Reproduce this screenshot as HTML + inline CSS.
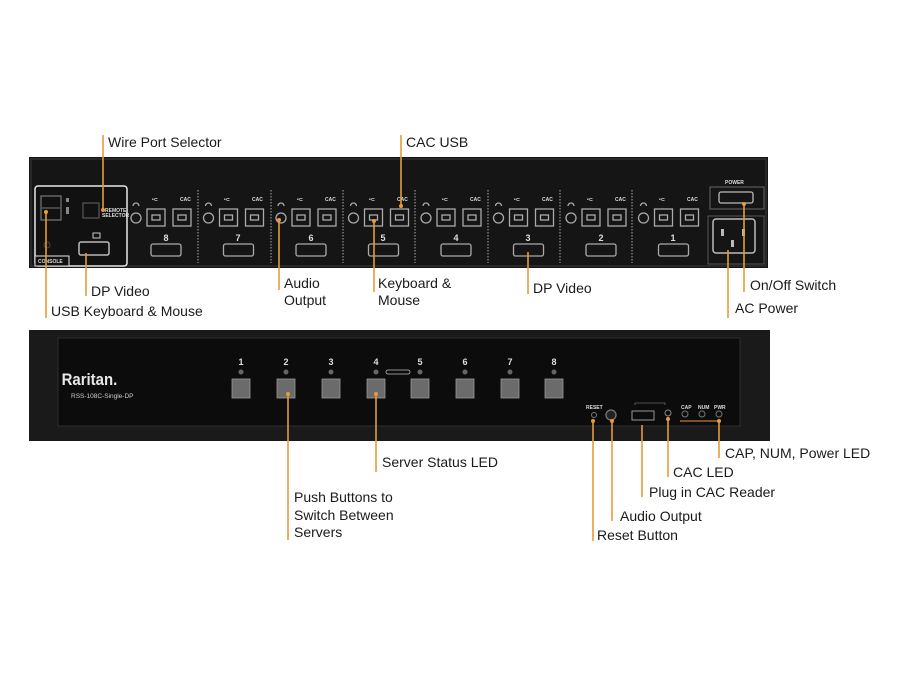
<!DOCTYPE html>
<html><head><meta charset="utf-8"><style>
html,body{margin:0;padding:0;background:#fff;}
svg{display:block;}
text{font-family:"Liberation Sans",sans-serif;}
.l{font-size:14px;fill:#1a1a1a;}
.s{font-size:5px;fill:#ddd;font-weight:bold;}
.n{font-size:9px;fill:#ddd;font-weight:bold;}
</style></head><body>
<svg width="900" height="675" viewBox="0 0 900 675" xmlns="http://www.w3.org/2000/svg">
<rect width="900" height="675" fill="#fff"/>
<!-- TOP PANEL -->
<rect x="29" y="157" width="739" height="111" fill="#151515"/>
<rect x="31" y="159" width="735" height="107" fill="none" stroke="#3a3a3a" stroke-width="1"/>
<!-- console box -->
<rect x="35" y="186" width="92" height="80" rx="3" fill="#111" stroke="#e8e8e8" stroke-width="1.5"/>
<rect x="41" y="196" width="20" height="24" fill="none" stroke="#777" stroke-width="1.2"/>
<line x1="42" y1="208" x2="60" y2="208" stroke="#777"/>
<rect x="66" y="198" width="3" height="4" fill="#888"/><rect x="66" y="207" width="3" height="7" fill="#888"/>
<rect x="83" y="203" width="16" height="15" fill="none" stroke="#666"/>
<text x="105" y="212" class="s">REMOTE</text><text x="102" y="217" class="s">SELECTOR</text>
<rect x="93" y="233" width="7" height="5" fill="none" stroke="#ccc"/>
<rect x="79" y="242" width="30" height="13" rx="2" fill="none" stroke="#bbb" stroke-width="1.5"/>
<circle cx="47" cy="245" r="3" fill="none" stroke="#444"/>
<rect x="35" y="256" width="34" height="10" fill="#111" stroke="#e8e8e8" stroke-width="1"/>
<text x="38" y="263" class="s" fill="#eee">CONSOLE</text>
<!-- dividers -->
<g stroke="#aaa" stroke-width="1" stroke-dasharray="1.5,1.5">
<line x1="198" y1="190" x2="198" y2="263"/><line x1="271" y1="190" x2="271" y2="263"/>
<line x1="343" y1="190" x2="343" y2="263"/><line x1="415" y1="190" x2="415" y2="263"/>
<line x1="488" y1="190" x2="488" y2="263"/><line x1="560" y1="190" x2="560" y2="263"/>
<line x1="632" y1="190" x2="632" y2="263"/>
</g>
<!-- groups -->
<g id="g8" fill="none" stroke="#aaa" stroke-width="1.3">
<circle cx="136" cy="218" r="5"/><rect x="147" y="209" width="18" height="17"/><rect x="152" y="215" width="8" height="5"/>
<rect x="173" y="209" width="18" height="17"/><rect x="178" y="215" width="8" height="5"/>
<rect x="151" y="244" width="30" height="12" rx="2"/><path d="M133 206 a3 3 0 0 1 6 0"/>
</g>
<use href="#g8" x="72.5"/><use href="#g8" x="145"/><use href="#g8" x="217.5"/><use href="#g8" x="290"/><use href="#g8" x="362.5"/><use href="#g8" x="435"/><use href="#g8" x="507.5"/>
<g class="s">
<text x="152" y="201">•⊂</text><text x="180" y="201">CAC</text>
<text x="224" y="201">•⊂</text><text x="252" y="201">CAC</text>
<text x="297" y="201">•⊂</text><text x="325" y="201">CAC</text>
<text x="369" y="201">•⊂</text><text x="397" y="201">CAC</text>
<text x="442" y="201">•⊂</text><text x="470" y="201">CAC</text>
<text x="514" y="201">•⊂</text><text x="542" y="201">CAC</text>
<text x="587" y="201">•⊂</text><text x="615" y="201">CAC</text>
<text x="659" y="201">•⊂</text><text x="687" y="201">CAC</text>
</g>
<g class="n" text-anchor="middle">
<text x="166" y="241">8</text><text x="238" y="241">7</text><text x="311" y="241">6</text><text x="383" y="241">5</text>
<text x="456" y="241">4</text><text x="528" y="241">3</text><text x="601" y="241">2</text><text x="673" y="241">1</text>
</g>
<!-- power -->
<text x="725" y="184" class="s">POWER</text>
<rect x="710" y="187" width="54" height="22" fill="none" stroke="#666"/>
<rect x="719" y="192" width="34" height="11" rx="2" fill="none" stroke="#bbb" stroke-width="1.3"/>
<rect x="708" y="216" width="56" height="48" fill="none" stroke="#555"/>
<rect x="713" y="219" width="42" height="34" rx="3" fill="none" stroke="#bbb" stroke-width="1.5"/>
<rect x="721" y="229" width="3" height="7" fill="#bbb"/><rect x="742" y="229" width="3" height="7" fill="#bbb"/><rect x="731" y="240" width="3" height="7" fill="#bbb"/>
<!-- BOTTOM PANEL -->
<rect x="29" y="330" width="741" height="111" fill="#1a1a1a"/>
<rect x="58" y="338" width="682" height="88" fill="#0c0c0c" stroke="#2e2e2e"/>
<text x="70" y="385" font-size="17" fill="#e8e8e8" font-weight="bold" transform="scale(0.88,1)" style="font-family:'Liberation Sans Narrow','Liberation Sans',sans-serif">Raritan.</text>
<text x="71" y="398" font-size="6.5" fill="#ccc">RSS-108C-Single-DP</text>
<g class="n" text-anchor="middle">
<text x="241" y="365">1</text><text x="286" y="365">2</text><text x="331" y="365">3</text><text x="376" y="365">4</text>
<text x="420" y="365">5</text><text x="465" y="365">6</text><text x="510" y="365">7</text><text x="554" y="365">8</text>
</g>
<g fill="#666"><circle cx="241" cy="372" r="2.5"/><circle cx="286" cy="372" r="2.5"/><circle cx="331" cy="372" r="2.5"/><circle cx="376" cy="372" r="2.5"/><circle cx="420" cy="372" r="2.5"/><circle cx="465" cy="372" r="2.5"/><circle cx="510" cy="372" r="2.5"/><circle cx="554" cy="372" r="2.5"/></g>
<rect x="386" y="370" width="24" height="4" rx="2" fill="none" stroke="#bbb" stroke-width="0.8"/>
<g fill="#6b6b6b" stroke="#999" stroke-width="0.8">
<rect x="232" y="379" width="18" height="19"/><rect x="277" y="379" width="18" height="19"/><rect x="322" y="379" width="18" height="19"/><rect x="367" y="379" width="18" height="19"/>
<rect x="411" y="379" width="18" height="19"/><rect x="456" y="379" width="18" height="19"/><rect x="501" y="379" width="18" height="19"/><rect x="545" y="379" width="18" height="19"/>
</g>
<text x="586" y="409" class="s">RESET</text>
<circle cx="594" cy="415" r="2.5" fill="none" stroke="#777"/>
<circle cx="611" cy="415" r="5" fill="#222" stroke="#777" stroke-width="1.3"/>
<rect x="632" y="411" width="22" height="9" fill="none" stroke="#999"/>
<path d="M635 405 v-2 h30 v2" fill="none" stroke="#888" stroke-width="0.6"/>
<circle cx="668" cy="413" r="3" fill="none" stroke="#888"/>
<text x="681" y="409" class="s">CAP</text><text x="698" y="409" class="s">NUM</text><text x="714" y="409" class="s">PWR</text>
<circle cx="685" cy="414" r="3" fill="none" stroke="#777"/><circle cx="702" cy="414" r="3" fill="none" stroke="#777"/><circle cx="719" cy="414" r="3" fill="none" stroke="#777"/>
<!-- CONNECTORS -->
<g stroke="#e89a3c" stroke-width="1.6" fill="none">
<line x1="103" y1="135" x2="103" y2="210"/>
<line x1="401" y1="135" x2="401" y2="206"/>
<line x1="86" y1="253" x2="86" y2="296"/>
<line x1="46" y1="212" x2="46" y2="318"/>
<line x1="279" y1="220" x2="279" y2="290"/>
<line x1="374" y1="221" x2="374" y2="292"/>
<line x1="528" y1="252" x2="528" y2="294"/>
<line x1="744" y1="204" x2="744" y2="292"/>
<line x1="728" y1="250" x2="728" y2="318"/>
<line x1="288" y1="394" x2="288" y2="540"/>
<line x1="376" y1="394" x2="376" y2="472"/>
<line x1="593" y1="420" x2="593" y2="541"/>
<line x1="612" y1="421" x2="612" y2="521"/>
<line x1="642" y1="425" x2="642" y2="497"/>
<line x1="668" y1="419" x2="668" y2="477"/>
<line x1="719" y1="421" x2="719" y2="458"/>
<line x1="680" y1="421" x2="719" y2="421" stroke-width="1"/>
</g>
<g fill="#e89a3c"><circle cx="103" cy="210" r="2"/><circle cx="401" cy="206" r="2"/><circle cx="46" cy="212" r="2"/><circle cx="279" cy="220" r="2"/><circle cx="374" cy="221" r="2"/><circle cx="744" cy="204" r="2"/><circle cx="288" cy="394" r="2"/><circle cx="376" cy="394" r="2"/><circle cx="593" cy="421" r="2"/><circle cx="612" cy="421" r="2"/><circle cx="668" cy="419" r="2"/><circle cx="719" cy="421" r="2"/></g>
<!-- LABELS -->
<g class="l">
<text x="108" y="147">Wire Port Selector</text>
<text x="406" y="147">CAC USB</text>
<text x="91" y="296">DP Video</text>
<text x="51" y="316">USB Keyboard &amp; Mouse</text>
<text x="284" y="288">Audio</text><text x="284" y="305">Output</text>
<text x="378" y="288">Keyboard &amp;</text><text x="378" y="305">Mouse</text>
<text x="533" y="293">DP Video</text>
<text x="750" y="290">On/Off Switch</text>
<text x="735" y="313">AC Power</text>
<text x="382" y="467">Server Status LED</text>
<text x="294" y="502">Push Buttons to</text><text x="294" y="520">Switch Between</text><text x="294" y="537">Servers</text>
<text x="725" y="458">CAP, NUM, Power LED</text>
<text x="673" y="477">CAC LED</text>
<text x="649" y="497">Plug in CAC Reader</text>
<text x="620" y="521">Audio Output</text>
<text x="597" y="540">Reset Button</text>
</g>
</svg>
</body></html>
